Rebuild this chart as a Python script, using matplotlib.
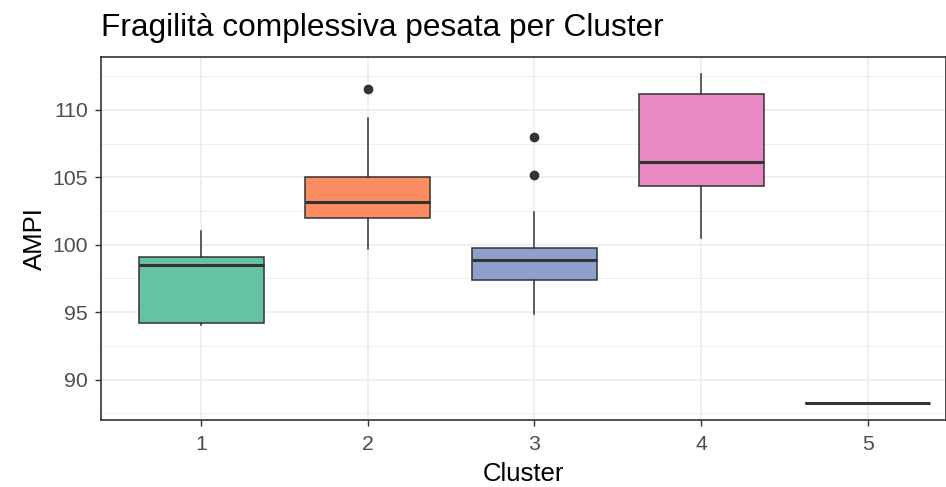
import matplotlib
matplotlib.use('Agg')
import matplotlib.pyplot as plt
from matplotlib.ticker import MultipleLocator

plt.rcParams['font.family'] = ['Liberation Sans', 'DejaVu Sans']

# box stats
clusters = ['1', '2', '3', '4', '5']
whislo = [94.05, 99.7, 94.85, 100.5, 88.25]
q1 = [94.2, 101.95, 97.4, 104.35, 88.25]
med = [98.5, 103.2, 98.85, 106.15, 88.25]
q3 = [99.1, 105.0, 99.75, 111.2, 88.25]
whishi = [101.0, 109.4, 102.4, 112.7, 88.25]
outliers = [[], [111.55], [108.0, 105.15], [], []]
colors = ['#66C2A5', '#FC8D62', '#8DA0CB', '#E78AC3', '#A6D854']

stats = []
for i in range(len(clusters)):
    stats.append(dict(label=clusters[i], whislo=whislo[i], q1=q1[i], med=med[i],
                      q3=q3[i], whishi=whishi[i], fliers=outliers[i]))

fig = plt.figure(figsize=(9.46, 4.87), dpi=100)
ax = fig.add_axes([0.1068, 0.1376, 0.8932, 0.746])

edge = '#333333'
bp = ax.bxp(stats, positions=range(1, 6), widths=0.75, patch_artist=True, showcaps=False,
            boxprops=dict(edgecolor=edge, linewidth=1.1),
            whiskerprops=dict(color=edge, linewidth=1.1),
            medianprops=dict(color=edge, linewidth=2.2),
            flierprops=dict(marker='o', markerfacecolor=edge, markeredgecolor=edge, markersize=6))
for patch, c in zip(bp['boxes'], colors):
    patch.set_facecolor(c)
    patch.set_zorder(3)
for k in ['whiskers', 'medians', 'fliers']:
    for a in bp[k]:
        a.set_zorder(4)

ax.set_xlim(0.4, 5.47)
ax.set_ylim(87.0, 113.95)
ax.yaxis.set_major_locator(MultipleLocator(5))
ax.yaxis.set_minor_locator(MultipleLocator(2.5))
ax.set_xticks(range(1, 6))
ax.set_xticklabels(clusters)

ax.grid(True, which='major', color='#EBEBEB', linewidth=1.1, zorder=0)
ax.grid(True, which='minor', axis='y', color='#EBEBEB', linewidth=0.6, zorder=0)
ax.set_axisbelow(True)
ax.tick_params(which='major', colors=edge, labelcolor='#4D4D4D', labelsize=15.3, length=4.5, width=1)
ax.tick_params(axis='x', pad=6)
ax.tick_params(axis='y', pad=5)
ax.tick_params(which='minor', length=0)
for s in ax.spines.values():
    s.set_color(edge)
    s.set_linewidth(1.2)

ax.set_xlabel('Cluster', fontsize=18.5, labelpad=6)
ax.set_ylabel('AMPI', fontsize=18.5, labelpad=4)
ax.set_title('Fragilità complessiva pesata per Cluster', fontsize=22.8, loc='left', pad=15)

fig.savefig('out.png', dpi=100)
